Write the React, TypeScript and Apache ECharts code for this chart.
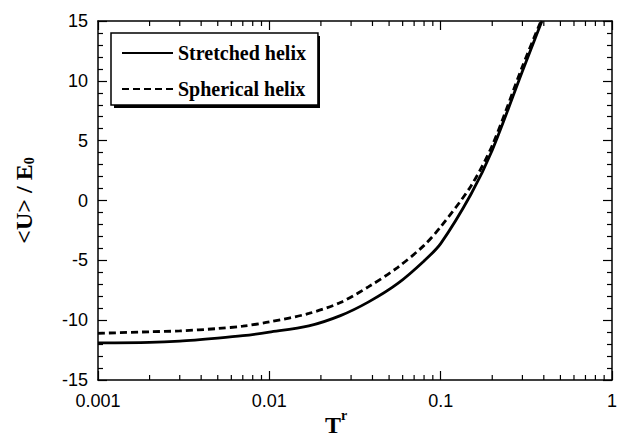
import React, { useEffect, useRef } from "react";
import * as echarts from "echarts";

const temps = [0.001, 0.002, 0.003, 0.005, 0.007, 0.01, 0.017, 0.026, 0.038, 0.056, 0.08, 0.1, 0.15, 0.2, 0.3, 0.39];
const stretchedHelix = [-11.9, -11.86, -11.75, -11.5, -11.3, -11.0, -10.48, -9.62, -8.47, -6.95, -5.05, -3.6, 0.5, 4.2, 10.8, 15];
const sphericalTemps = [0.001, 0.002, 0.003, 0.005, 0.007, 0.01, 0.017, 0.026, 0.038, 0.056, 0.08, 0.1, 0.15, 0.2, 0.3, 0.385];
const sphericalHelix = [-11.1, -10.97, -10.9, -10.7, -10.5, -10.15, -9.44, -8.52, -7.2, -5.6, -3.75, -2.2, 1.2, 4.6, 11.2, 15];
const minorTicksX = [0.002, 0.003, 0.004, 0.005, 0.006, 0.007, 0.008, 0.009, 0.02, 0.03, 0.04, 0.05, 0.06, 0.07, 0.08, 0.09, 0.2, 0.3, 0.4, 0.5, 0.6, 0.7, 0.8, 0.9];
const seriesNames = ["Stretched helix", "Spherical helix"];
const yMin = -15;
const yMax = 15;

const SERIF = "'Liberation Serif', 'Times New Roman', serif";
const SANS = "'Liberation Sans', Arial, sans-serif";

export default function App() {
  const ref = useRef<HTMLDivElement>(null);
  useEffect(() => {
    document.body.style.margin = "0";
    if (!ref.current) return;
    const chart = echarts.init(ref.current, undefined, { renderer: "svg" });
    const axisLine = { show: true, onZero: false, lineStyle: { color: "#000", width: 1.5 } };
    const tick = { show: true, inside: true, length: 9, lineStyle: { color: "#000", width: 1.2 } };
    const option: any = {
      animation: false,
      backgroundColor: "#fff",
      grid: { left: 98, right: 4, top: 21, bottom: 58 },
      legend: {
        data: seriesNames,
        orient: "vertical",
        left: 111,
        top: 33,
        padding: [10, 12, 6, 10],
        itemGap: 16,
        itemWidth: 51,
        itemHeight: 20,
        backgroundColor: "#fff",
        borderColor: "#000",
        borderWidth: 1.5,
        borderRadius: 0,
        itemStyle: { opacity: 0 },
        textStyle: { fontFamily: SERIF, fontWeight: "bold", fontSize: 20, color: "#000" },
        z: 10,
      },
      graphic: [
        { type: "rect", shape: { x: 114, y: 36, width: 206, height: 72 }, style: { fill: "#000" }, z: 5 },
        { type: "text", x: 325, y: 413, style: { text: "T", font: `bold 24px ${SERIF}`, fill: "#000" } },
        { type: "text", x: 341, y: 408, style: { text: "r", font: `bold 14px ${SERIF}`, fill: "#000" } },
      ],
      xAxis: [
        {
          type: "log",
          logBase: 10,
          min: 0.001,
          max: 1,
          position: "bottom",
          axisLine,
          axisTick: tick,
          axisLabel: {
            show: true,
            margin: 12,
            fontFamily: SANS,
            fontSize: 18,
            color: "#000",
            formatter: (v: number) => String(v),
          },
          splitLine: { show: false },
        },
        {
          type: "log",
          logBase: 10,
          min: 0.001,
          max: 1,
          position: "top",
          axisLine,
          axisTick: tick,
          axisLabel: { show: false },
          splitLine: { show: false },
        },
      ],
      yAxis: [
        {
          type: "value",
          min: yMin,
          max: yMax,
          interval: 5,
          position: "left",
          axisLine,
          axisTick: tick,
          minorTick: { show: true, splitNumber: 5, length: 5, lineStyle: { color: "#000", width: 1.2 } },
          axisLabel: { margin: 10, fontFamily: SANS, fontSize: 18, color: "#000" },
          splitLine: { show: false },
          name: "{a|<U> / E}{b|0}",
          nameLocation: "middle",
          nameRotate: 90,
          nameGap: 62,
          nameTextStyle: {
            rich: {
              a: { fontFamily: SERIF, fontWeight: "bold", fontSize: 24, color: "#000" },
              b: { fontFamily: SERIF, fontWeight: "bold", fontSize: 14, color: "#000", verticalAlign: "bottom", padding: [8, 0, 0, 0] },
            },
          },
        },
        {
          type: "value",
          min: yMin,
          max: yMax,
          interval: 5,
          position: "right",
          axisLine,
          axisTick: tick,
          minorTick: { show: true, splitNumber: 5, length: 5, lineStyle: { color: "#000", width: 1.2 } },
          axisLabel: { show: false },
          splitLine: { show: false },
        },
      ],
      series: [
        {
          name: seriesNames[0],
          type: "line",
          data: temps.map((t, i) => [t, stretchedHelix[i]]),
          showSymbol: false,
          symbol: "none",
          smooth: 0.3,
          lineStyle: { color: "#000", width: 2.8, type: "solid" },
          itemStyle: { color: "#000" },
          z: 3,
        },
        {
          name: seriesNames[1],
          type: "line",
          data: sphericalTemps.map((t, i) => [t, sphericalHelix[i]]),
          showSymbol: false,
          symbol: "none",
          smooth: 0.3,
          lineStyle: { color: "#000", width: 2.8, type: [7, 4] },
          itemStyle: { color: "#000" },
          z: 3,
        },
        {
          type: "custom",
          name: "minorTicks",
          data: minorTicksX.map((t) => [t]),
          clip: false,
          silent: true,
          renderItem: (params: any, api: any) => {
            const x = api.value(0);
            const bottom = api.coord([x, yMin]);
            const top = api.coord([x, yMax]);
            const st = { stroke: "#000", lineWidth: 1.2 };
            return {
              type: "group",
              children: [
                { type: "line", shape: { x1: bottom[0], y1: bottom[1], x2: bottom[0], y2: bottom[1] - 5 }, style: st },
                { type: "line", shape: { x1: top[0], y1: top[1], x2: top[0], y2: top[1] + 5 }, style: st },
              ],
            };
          },
        },
      ],
    };
    chart.setOption(option);
    return () => chart.dispose();
  }, []);
  return <div ref={ref} style={{ width: 620, height: 438 }} />;
}
